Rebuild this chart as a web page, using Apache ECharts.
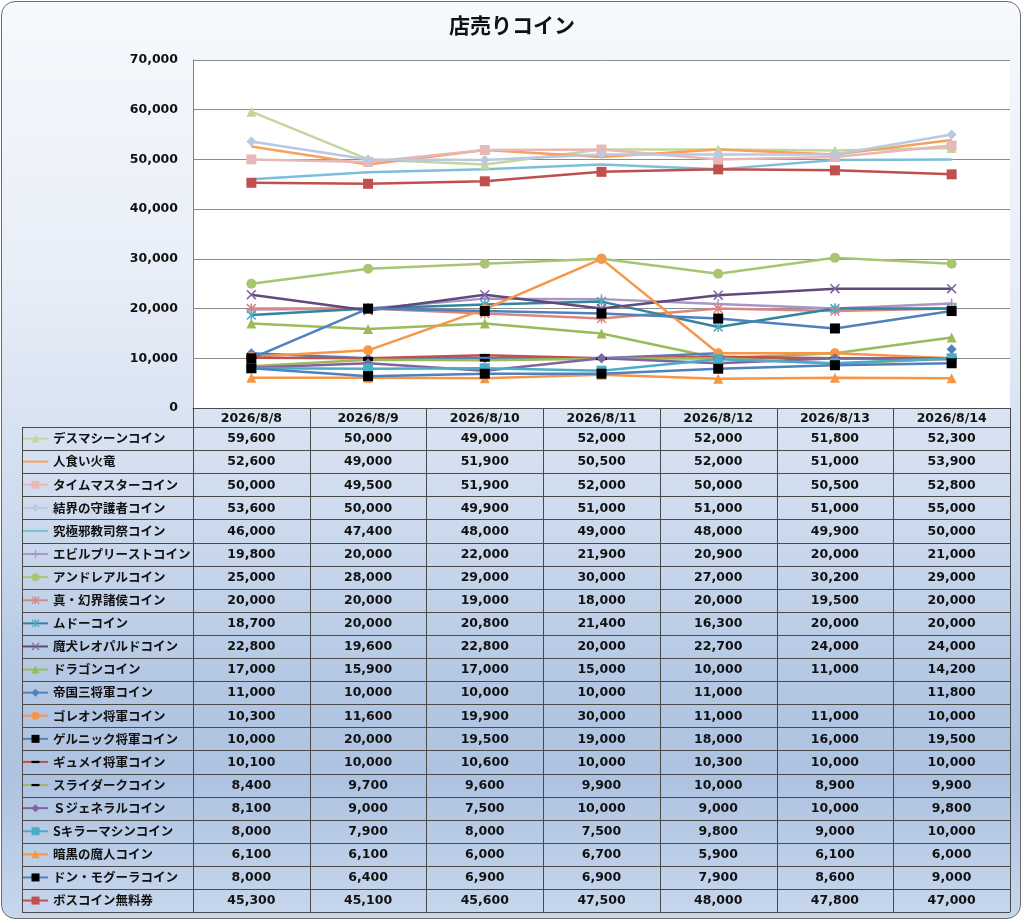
<!DOCTYPE html>
<html>
<head>
<meta charset="utf-8">
<script src="https://cdn.jsdelivr.net/npm/echarts@6/dist/echarts.min.js"></script>
<style>
html,body{margin:0;padding:0;width:1024px;height:920px;overflow:hidden;background:#ffffff;}
#bg{position:absolute;left:1px;top:1px;width:1020px;height:918px;box-sizing:border-box;border:1.5px solid #6b6b6b;border-radius:14px;
background:linear-gradient(to bottom,#f6f9fd 0%,#e8eef8 30%,#cfdcee 55%,#b3c7e3 75%,#aec3e1 85%,#c7d7ec 100%);}
#chart{position:absolute;left:0;top:0;width:1024px;height:920px;}
</style>
</head>
<body>
<div id="bg"></div>
<div id="chart"></div>
<script>
// ---------- data ----------
const categories = ['2026/8/8','2026/8/9','2026/8/10','2026/8/11','2026/8/12','2026/8/13','2026/8/14'];
const yTicks = [0,10000,20000,30000,40000,50000,60000,70000];
const seriesNames = ['デスマシーンコイン','人食い火竜','タイムマスターコイン','結界の守護者コイン','究極邪教司祭コイン',
  'エビルプリーストコイン','アンドレアルコイン','真・幻界諸侯コイン','ムドーコイン','魔犬レオパルドコイン',
  'ドラゴンコイン','帝国三将軍コイン','ゴレオン将軍コイン','ゲルニック将軍コイン','ギュメイ将軍コイン',
  'スライダークコイン','Ｓジェネラルコイン','Sキラーマシンコイン','暗黒の魔人コイン','ドン・モグーラコイン','ボスコイン無料券'];
const deathMachine   = [59600,50000,49000,52000,52000,51800,52300];
const hitokuiKaryu   = [52600,49000,51900,50500,52000,51000,53900];
const timeMaster     = [50000,49500,51900,52000,50000,50500,52800];
const kekkai         = [53600,50000,49900,51000,51000,51000,55000];
const kyukyoku       = [46000,47400,48000,49000,48000,49900,50000];
const evilPriest     = [19800,20000,22000,21900,20900,20000,21000];
const andreal        = [25000,28000,29000,30000,27000,30200,29000];
const genkaiShoko    = [20000,20000,19000,18000,20000,19500,20000];
const mudo           = [18700,20000,20800,21400,16300,20000,20000];
const leopard        = [22800,19600,22800,20000,22700,24000,24000];
const dragon         = [17000,15900,17000,15000,10000,11000,14200];
const teikoku        = [11000,10000,10000,10000,11000,null,11800];
const goreon         = [10300,11600,19900,30000,11000,11000,10000];
const gernick        = [10000,20000,19500,19000,18000,16000,19500];
const gyumei         = [10100,10000,10600,10000,10300,10000,10000];
const slydark        = [8400,9700,9600,9900,10000,8900,9900];
const sGeneral       = [8100,9000,7500,10000,9000,10000,9800];
const sKiller        = [8000,7900,8000,7500,9800,9000,10000];
const ankoku         = [6100,6100,6000,6700,5900,6100,6000];
const donMogura      = [8000,6400,6900,6900,7900,8600,9000];
const bossTicket     = [45300,45100,45600,47500,48000,47800,47000];
const seriesValues = [deathMachine,hitokuiKaryu,timeMaster,kekkai,kyukyoku,evilPriest,andreal,genkaiShoko,mudo,leopard,
  dragon,teikoku,goreon,gernick,gyumei,slydark,sGeneral,sKiller,ankoku,donMogura,bossTicket];

// ---------- styles ----------
const PLUS = 'path://M4.2,0H5.8V4.2H10V5.8H5.8V10H4.2V5.8H0V4.2H4.2Z';
const CROSS = 'path://M0,1.1L1.1,0L10,8.9L8.9,10ZM8.9,0L10,1.1L1.1,10L0,8.9Z';
const STAR = 'path://M0,1.1L1.1,0L10,8.9L8.9,10ZM8.9,0L10,1.1L1.1,10L0,8.9ZM4.3,0H5.7V10H4.3Z';
const DASH = 'path://M0,0M10,10M0,3.6H10V6.4H0Z';
const styleDefs = [
  {line:'#c3d69b', mark:'#c3d69b', symbol:'triangle', size:10},
  {line:'#f9a05b', mark:null, symbol:'none', size:0},
  {line:'#e6b9b8', mark:'#e6b9b8', symbol:'rect', size:10},
  {line:'#b9c8e3', mark:'#b9c8e3', symbol:'diamond', size:10},
  {line:'#7cc0d8', mark:null, symbol:'none', size:0},
  {line:'#a996c6', mark:'#a996c6', symbol:PLUS, size:10},
  {line:'#a8c572', mark:'#a8c572', symbol:'circle', size:10},
  {line:'#d98683', mark:'#d98683', symbol:STAR, size:10},
  {line:'#31859c', mark:'#4bacc6', symbol:STAR, size:10},
  {line:'#604a7b', mark:'#8064a2', symbol:CROSS, size:10},
  {line:'#9bbb59', mark:'#9bbb59', symbol:'triangle', size:10},
  {line:'#4f81bd', mark:'#4f81bd', symbol:'diamond', size:10},
  {line:'#f79646', mark:'#f79646', symbol:'circle', size:10},
  {line:'#4f81bd', mark:'#000000', symbol:'rect', size:10},
  {line:'#c0504d', mark:'#000000', symbol:DASH, size:10},
  {line:'#9bbb59', mark:'#000000', symbol:DASH, size:10},
  {line:'#8064a2', mark:'#8064a2', symbol:'diamond', size:10},
  {line:'#4bacc6', mark:'#4bacc6', symbol:'rect', size:10},
  {line:'#f79646', mark:'#f79646', symbol:'triangle', size:10},
  {line:'#4f81bd', mark:'#000000', symbol:'rect', size:10},
  {line:'#c0504d', mark:'#c0504d', symbol:'rect', size:10}
];

// ---------- layout ----------
const W = 1024, H = 920;
const plotLeft = 193, plotRight = 1010, plotTop = 60, plotBottom = 408;
const tableLeft = 22, headBottom = 427, rowH = 23.1;
const colW = (plotRight - plotLeft) / categories.length;
const numFont = 'bold 12.5px "DejaVu Sans", Verdana, sans-serif';
const fmt = v => (v === null || v === undefined) ? '' : v.toLocaleString('en-US');
const crisp = v => Math.round(v) + 0.5;

const series = seriesValues.map((vals, i) => {
  const s = styleDefs[i];
  return {
    name: seriesNames[i],
    type: 'line',
    data: vals,
    connectNulls: false,
    symbol: s.symbol,
    symbolSize: s.size,
    showSymbol: s.symbol !== 'none',
    lineStyle: {color: s.line, width: 2.5},
    itemStyle: {color: s.mark || s.line, borderWidth: 0},
    emphasis: {disabled: true},
    animation: false,
    z: 2
  };
});

const legendData = seriesNames.map((n, i) => styleDefs[i].symbol === 'none'
  ? {name: n, itemStyle: {color: 'rgba(0,0,0,0)', borderWidth: 0}}
  : {name: n});

// table graphics
const graphics = [];
const tableBottom = headBottom + rowH * seriesNames.length;
const lineStyle = {stroke: '#4a4a4a', lineWidth: 1};
graphics.push({type:'line', z:100, shape:{x1:plotLeft, y1:crisp(plotBottom), x2:plotRight, y2:crisp(plotBottom)}, style:lineStyle});
for (let r = 0; r <= seriesNames.length; r++) {
  const y = crisp(headBottom + r * rowH);
  graphics.push({type:'line', z:100, shape:{x1:tableLeft, y1:y, x2:plotRight, y2:y}, style:lineStyle});
}
graphics.push({type:'line', z:100, shape:{x1:crisp(tableLeft), y1:headBottom, x2:crisp(tableLeft), y2:tableBottom}, style:lineStyle});
for (let c = 0; c <= categories.length; c++) {
  const x = crisp(plotLeft + c * colW);
  graphics.push({type:'line', z:100, shape:{x1:x, y1:plotBottom, x2:x, y2:tableBottom}, style:lineStyle});
}
seriesValues.forEach((vals, r) => {
  vals.forEach((v, c) => {
    graphics.push({
      type:'text', z:100,
      x: plotLeft + (c + 0.5) * colW,
      y: headBottom + (r + 0.5) * rowH + 0.5,
      style:{text: fmt(v), font: numFont, fill:'#111', align:'center', verticalAlign:'middle',
             textAlign:'center', textVerticalAlign:'middle'}
    });
  });
});

const chart = echarts.init(document.getElementById('chart'), null, {renderer:'canvas', width:W, height:H});
chart.setOption({
  animation: false,
  backgroundColor: 'transparent',
  title: {
    text: '店売りコイン', left: 'center', top: 10,
    textStyle: {fontFamily:'"Noto Sans CJK JP", sans-serif', fontSize: 21, fontWeight: 'bold', color: '#111'}
  },
  grid: {
    left: plotLeft, right: W - plotRight, top: plotTop, bottom: H - plotBottom,
    show: true, backgroundColor: '#ffffff', borderWidth: 0,
    containLabel: false, outerBoundsMode: 'none'
  },
  legend: {
    orient: 'vertical', left: 22, top: headBottom + rowH / 2 - 7,
    padding: 0, itemWidth: 25, itemHeight: 10, itemGap: rowH - 14,
    selectedMode: false,
    data: legendData,
    textStyle: {fontFamily:'"Noto Sans CJK JP", sans-serif', fontSize: 12.5, fontWeight: 'bold', color: '#111', lineHeight: 14}
  },
  xAxis: {
    type: 'category', data: categories, boundaryGap: true,
    axisLine: {show: true, lineStyle: {color: '#4a4a4a', width: 1}},
    axisTick: {show: false},
    splitLine: {show: false},
    axisLabel: {margin: 4, color: '#111', fontFamily: '"DejaVu Sans", Verdana, sans-serif', fontSize: 12.5, fontWeight: 'bold', interval: 0}
  },
  yAxis: {
    type: 'value', min: 0, max: 70000, interval: 10000,
    axisLine: {show: true, lineStyle: {color: '#7f7f7f', width: 1}},
    axisTick: {show: false},
    splitLine: {show: true, lineStyle: {color: '#8c8c8c', width: 1}},
    axisLabel: {
      margin: 15, color: '#111', fontFamily: '"DejaVu Sans", Verdana, sans-serif', fontSize: 12.5, fontWeight: 'bold',
      formatter: v => yTicks.indexOf(v) >= 0 ? v.toLocaleString('en-US') : ''
    }
  },
  tooltip: {show: false},
  series: series,
  graphic: graphics
});
</script>
</body>
</html>
